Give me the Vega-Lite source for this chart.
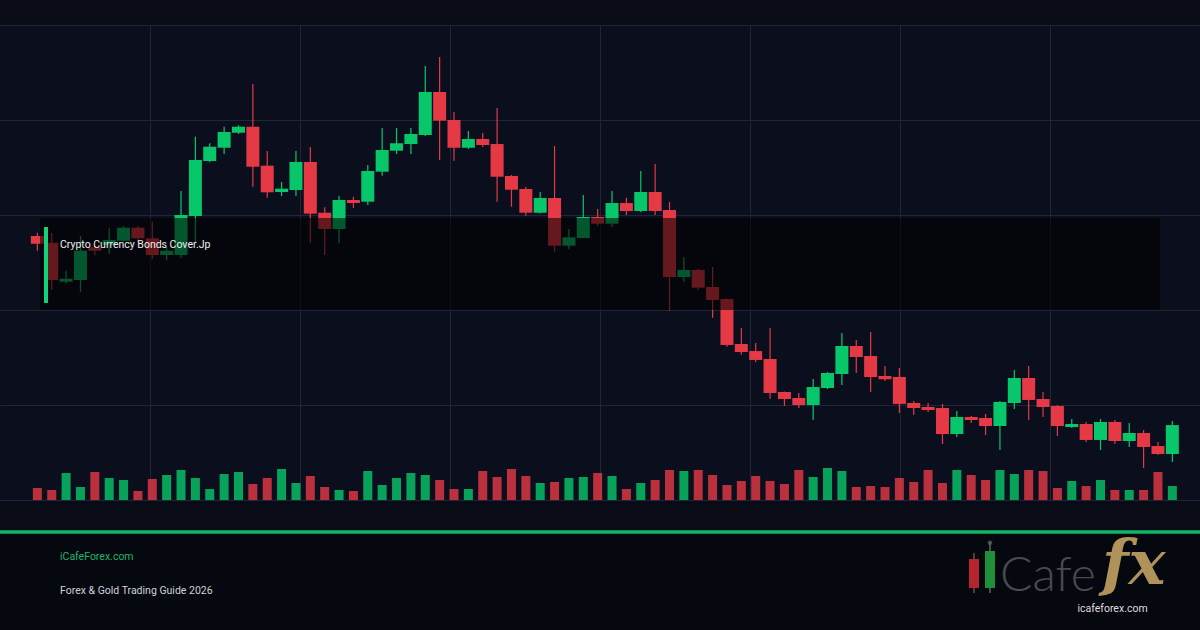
{
  "$schema": "https://vega.github.io/schema/vega-lite/v6.json",
  "width": 1200,
  "height": 475,
  "autosize": {"type": "none"},
  "padding": {"top": 25, "left": 0, "right": 0, "bottom": 130},
  "background": "#090c16",
  "config": {
    "view": {"stroke": null, "fill": "#0b0f1d"},
    "axis": {"grid": true, "gridColor": "#1f2638", "gridWidth": 1, "labels": false, "ticks": false, "domain": false, "title": null},
    "text": {"font": "Roboto"}
  },
  "datasets": {
    "candles": [
      {"i":0,"o":127.79,"h":128.14,"l":126.24,"c":126.98,"v":1200},
      {"i":1,"o":127.08,"h":128.11,"l":122.11,"c":123.16,"v":1000},
      {"i":2,"o":122.98,"h":124.14,"l":122.81,"c":123.29,"v":2700},
      {"i":3,"o":123.16,"h":127.79,"l":121.93,"c":126.24,"v":1300},
      {"i":4,"o":126.60,"h":126.74,"l":125.79,"c":126.24,"v":2800},
      {"i":5,"o":126.84,"h":128.60,"l":125.89,"c":127.37,"v":2200},
      {"i":6,"o":127.29,"h":128.84,"l":127.21,"c":128.66,"v":2000},
      {"i":7,"o":128.66,"h":128.87,"l":127.05,"c":127.55,"v":900},
      {"i":8,"o":127.55,"h":129.29,"l":125.34,"c":125.79,"v":2100},
      {"i":9,"o":125.79,"h":126.66,"l":125.26,"c":126.24,"v":2500},
      {"i":10,"o":125.79,"h":132.53,"l":125.47,"c":130.00,"v":3000},
      {"i":11,"o":129.89,"h":138.24,"l":127.05,"c":135.79,"v":2200},
      {"i":12,"o":135.68,"h":137.55,"l":135.55,"c":137.19,"v":1100},
      {"i":13,"o":137.08,"h":139.29,"l":136.42,"c":138.74,"v":2600},
      {"i":14,"o":138.66,"h":139.44,"l":138.53,"c":139.29,"v":2800},
      {"i":15,"o":139.29,"h":143.79,"l":132.98,"c":135.08,"v":1600},
      {"i":16,"o":135.19,"h":136.74,"l":131.82,"c":132.39,"v":2200},
      {"i":17,"o":132.42,"h":133.47,"l":132.00,"c":132.77,"v":3100},
      {"i":18,"o":132.63,"h":136.74,"l":132.00,"c":135.58,"v":1700},
      {"i":19,"o":135.58,"h":137.16,"l":127.02,"c":130.14,"v":2400},
      {"i":20,"o":130.24,"h":130.81,"l":125.79,"c":128.53,"v":1300},
      {"i":21,"o":128.53,"h":132.00,"l":127.02,"c":131.58,"v":1000},
      {"i":22,"o":131.58,"h":131.93,"l":130.74,"c":131.26,"v":900},
      {"i":23,"o":131.40,"h":135.26,"l":131.05,"c":134.63,"v":2900},
      {"i":24,"o":134.56,"h":139.16,"l":134.14,"c":136.84,"v":1500},
      {"i":25,"o":136.77,"h":139.16,"l":136.42,"c":137.55,"v":2200},
      {"i":26,"o":137.47,"h":139.16,"l":136.42,"c":138.53,"v":2700},
      {"i":27,"o":138.42,"h":145.68,"l":138.32,"c":142.95,"v":2500},
      {"i":28,"o":142.95,"h":146.63,"l":135.79,"c":139.93,"v":2000},
      {"i":29,"o":140.00,"h":140.84,"l":135.72,"c":137.08,"v":1100},
      {"i":30,"o":137.08,"h":138.84,"l":136.95,"c":138.00,"v":1100},
      {"i":31,"o":138.00,"h":138.63,"l":137.16,"c":137.37,"v":2900},
      {"i":32,"o":137.47,"h":141.26,"l":131.40,"c":134.03,"v":2300},
      {"i":33,"o":134.11,"h":134.21,"l":130.87,"c":132.66,"v":3100},
      {"i":34,"o":132.74,"h":132.98,"l":129.93,"c":130.24,"v":2400},
      {"i":35,"o":130.24,"h":132.42,"l":130.16,"c":131.79,"v":1700},
      {"i":36,"o":131.79,"h":137.26,"l":126.14,"c":126.77,"v":1800},
      {"i":37,"o":126.77,"h":128.53,"l":126.39,"c":127.65,"v":2200},
      {"i":38,"o":127.58,"h":132.11,"l":127.55,"c":129.79,"v":2300},
      {"i":39,"o":129.79,"h":130.63,"l":128.84,"c":129.08,"v":2700},
      {"i":40,"o":129.08,"h":132.53,"l":128.74,"c":131.26,"v":2400},
      {"i":41,"o":131.26,"h":131.82,"l":130.00,"c":130.42,"v":1100},
      {"i":42,"o":130.42,"h":134.63,"l":130.32,"c":132.42,"v":1700},
      {"i":43,"o":132.42,"h":135.37,"l":130.00,"c":130.42,"v":2000},
      {"i":44,"o":130.53,"h":131.37,"l":119.93,"c":123.47,"v":3000},
      {"i":45,"o":123.47,"h":125.58,"l":122.98,"c":124.21,"v":2900},
      {"i":46,"o":124.21,"h":124.32,"l":122.11,"c":122.35,"v":3000},
      {"i":47,"o":122.42,"h":124.53,"l":119.19,"c":121.05,"v":2500},
      {"i":48,"o":121.16,"h":121.21,"l":116.14,"c":116.32,"v":1500},
      {"i":49,"o":116.42,"h":118.11,"l":115.29,"c":115.58,"v":1900},
      {"i":50,"o":115.68,"h":116.53,"l":114.53,"c":114.74,"v":2400},
      {"i":51,"o":114.84,"h":118.11,"l":110.66,"c":111.26,"v":1900},
      {"i":52,"o":111.37,"h":111.42,"l":109.89,"c":110.63,"v":1600},
      {"i":53,"o":110.74,"h":111.26,"l":109.68,"c":110.00,"v":3000},
      {"i":54,"o":110.00,"h":112.74,"l":108.42,"c":111.89,"v":2300},
      {"i":55,"o":111.79,"h":113.47,"l":111.68,"c":113.37,"v":3200},
      {"i":56,"o":113.26,"h":117.58,"l":112.11,"c":116.21,"v":2900},
      {"i":57,"o":116.21,"h":116.84,"l":113.37,"c":115.05,"v":1300},
      {"i":58,"o":115.16,"h":117.68,"l":111.37,"c":112.95,"v":1400},
      {"i":59,"o":113.05,"h":114.11,"l":112.53,"c":112.71,"v":1300},
      {"i":60,"o":112.95,"h":113.89,"l":109.16,"c":110.11,"v":2200},
      {"i":61,"o":110.21,"h":110.42,"l":108.95,"c":109.68,"v":1800},
      {"i":62,"o":109.79,"h":110.21,"l":109.26,"c":109.47,"v":3000},
      {"i":63,"o":109.68,"h":110.11,"l":105.89,"c":106.95,"v":1700},
      {"i":64,"o":106.95,"h":109.37,"l":106.63,"c":108.74,"v":3000},
      {"i":65,"o":108.74,"h":108.84,"l":108.11,"c":108.42,"v":2500},
      {"i":66,"o":108.63,"h":109.05,"l":106.84,"c":107.79,"v":2000},
      {"i":67,"o":107.79,"h":110.42,"l":105.26,"c":110.32,"v":3000},
      {"i":68,"o":110.21,"h":113.68,"l":109.58,"c":112.84,"v":2600},
      {"i":69,"o":112.84,"h":114.11,"l":108.42,"c":110.53,"v":3000},
      {"i":70,"o":110.63,"h":111.37,"l":108.74,"c":109.79,"v":2900},
      {"i":71,"o":109.89,"h":110.00,"l":106.74,"c":107.79,"v":1200},
      {"i":72,"o":107.68,"h":108.53,"l":107.58,"c":108.00,"v":1900},
      {"i":73,"o":108.00,"h":108.21,"l":106.11,"c":106.32,"v":1400},
      {"i":74,"o":106.32,"h":108.53,"l":105.26,"c":108.21,"v":2000},
      {"i":75,"o":108.21,"h":108.42,"l":105.89,"c":106.21,"v":1000},
      {"i":76,"o":106.21,"h":108.11,"l":105.58,"c":107.05,"v":1000},
      {"i":77,"o":107.05,"h":107.37,"l":103.37,"c":105.58,"v":1000},
      {"i":78,"o":105.68,"h":106.11,"l":104.74,"c":104.84,"v":2800},
      {"i":79,"o":104.84,"h":108.32,"l":104.00,"c":107.89,"v":1400}
    ],
    "one": [{"k": 1}]
  },
  "resolve": {"scale": {"y": "independent"}},
  "layer": [
    {
      "layer": [
        {
          "data": {"name": "candles"},
          "mark": {"type": "rule", "strokeWidth": 1.2},
          "encoding": {
            "x": {"field": "i", "type": "quantitative",
              "scale": {"domain": [-2.6, 80.925], "nice": false, "zero": false, "padding": 0},
              "axis": {"values": [7.8406, 18.2812, 28.7218, 39.1624, 49.603, 60.0436, 70.4842]}},
            "y": {"field": "l", "type": "quantitative", "scale": {"domain": [100, 150], "nice": false, "zero": false}, "axis": {"values": [100, 110, 120, 130, 140, 150]}},
            "y2": {"field": "h"},
            "color": {"condition": {"test": "datum.c >= datum.o", "value": "#08c76b"}, "value": "#e63946"}
          }
        },
        {
          "data": {"name": "candles"},
          "mark": {"type": "bar", "size": 13, "orient": "vertical"},
          "encoding": {
            "x": {"field": "i", "type": "quantitative"},
            "y": {"field": "o", "type": "quantitative"},
            "y2": {"field": "c"},
            "color": {"condition": {"test": "datum.c >= datum.o", "value": "#08c76b"}, "value": "#e63946"}
          }
        },
        {
          "data": {"name": "one"},
          "mark": {"type": "rect", "fill": "#000000", "opacity": 0.56},
          "encoding": {"x": {"datum": 0.184}, "x2": {"datum": 78.141}, "y": {"datum": 129.68}, "y2": {"datum": 120.0}}
        },
        {
          "data": {"name": "one"},
          "mark": {"type": "rect", "fill": "#12d27a"},
          "encoding": {"x": {"datum": 0.463}, "x2": {"datum": 0.741}, "y": {"datum": 128.74}, "y2": {"datum": 120.74}}
        },
        {
          "data": {"name": "one"},
          "mark": {"type": "text", "text": "Crypto Currency Bonds Cover.Jp", "align": "left", "baseline": "middle", "fontSize": 10.5, "color": "#eeeeee"},
          "encoding": {"x": {"datum": 1.576}, "y": {"datum": 126.84}}
        },
        {
          "data": {"name": "one"},
          "mark": {"type": "rect", "fill": "#06080f"},
          "encoding": {"x": {"datum": -2.6}, "x2": {"datum": 80.925}, "y": {"datum": 96.42}, "y2": {"datum": 86.0}}
        },
        {
          "data": {"name": "one"},
          "mark": {"type": "rule", "stroke": "#10b466", "strokeWidth": 3.5},
          "encoding": {"x": {"datum": -2.6}, "x2": {"datum": 80.925}, "y": {"datum": 96.63}}
        },
        {
          "data": {"name": "one"},
          "mark": {"type": "text", "text": "iCafeForex.com", "align": "left", "baseline": "middle", "fontSize": 10.5, "color": "#1db56a"},
          "encoding": {"x": {"datum": 1.576}, "y": {"datum": 94.0}}
        },
        {
          "data": {"name": "one"},
          "mark": {"type": "text", "text": "Forex & Gold Trading Guide 2026", "align": "left", "baseline": "middle", "fontSize": 10.5, "color": "#cfd2d8"},
          "encoding": {"x": {"datum": 1.576}, "y": {"datum": 90.45}}
        },
        {
          "data": {"name": "one"},
          "mark": {"type": "rule", "stroke": "#6a5050", "strokeWidth": 1.5},
          "encoding": {"x": {"datum": 65.194}, "y": {"datum": 94.42}, "y2": {"datum": 90.21}}
        },
        {
          "data": {"name": "one"},
          "mark": {"type": "rect", "fill": "#b3262d"},
          "encoding": {"x": {"datum": 64.846}, "x2": {"datum": 65.542}, "y": {"datum": 93.79}, "y2": {"datum": 90.74}}
        },
        {
          "data": {"name": "one"},
          "mark": {"type": "rule", "stroke": "#5a6a5c", "strokeWidth": 1.5},
          "encoding": {"x": {"datum": 66.308}, "y": {"datum": 95.58}, "y2": {"datum": 90.21}}
        },
        {
          "data": {"name": "one"},
          "mark": {"type": "point", "filled": true, "size": 22, "color": "#5a6a5c"},
          "encoding": {"x": {"datum": 66.308}, "y": {"datum": 95.5}}
        },
        {
          "data": {"name": "one"},
          "mark": {"type": "rect", "fill": "#1f8f3a"},
          "encoding": {"x": {"datum": 65.96}, "x2": {"datum": 66.656}, "y": {"datum": 94.63}, "y2": {"datum": 90.74}}
        },
        {
          "data": {"name": "one"},
          "mark": {"type": "text", "text": "Cafe", "align": "left", "baseline": "alphabetic", "fontSize": 48, "font": "Lato", "fontWeight": 300, "color": "#4a4a4f"},
          "encoding": {"x": {"datum": 67.004}, "y": {"datum": 90.42}}
        },
        {
          "data": {"name": "one"},
          "mark": {"type": "text", "text": "fx", "align": "left", "baseline": "alphabetic", "fontSize": 62, "font": "DejaVu Serif", "fontStyle": "italic", "fontWeight": "bold", "color": "#b0935a"},
          "encoding": {"x": {"datum": 74.1}, "y": {"datum": 91.16}}
        },
        {
          "data": {"name": "one"},
          "mark": {"type": "text", "text": "icafeforex.com", "align": "center", "baseline": "middle", "fontSize": 10.5, "color": "#dddddd"},
          "encoding": {"x": {"datum": 74.835}, "y": {"datum": 88.53}}
        }
      ]
    },
    {
      "data": {"name": "candles"},
      "mark": {"type": "bar", "size": 9, "orient": "vertical", "opacity": 0.8},
      "encoding": {
        "x": {"field": "i", "type": "quantitative"},
        "y": {"field": "v", "type": "quantitative", "scale": {"domain": [0, 47500], "nice": false, "zero": true}, "axis": null},
        "color": {"condition": {"test": "datum.c >= datum.o", "value": "#08c76b"}, "value": "#e63946"}
      }
    }
  ]
}
